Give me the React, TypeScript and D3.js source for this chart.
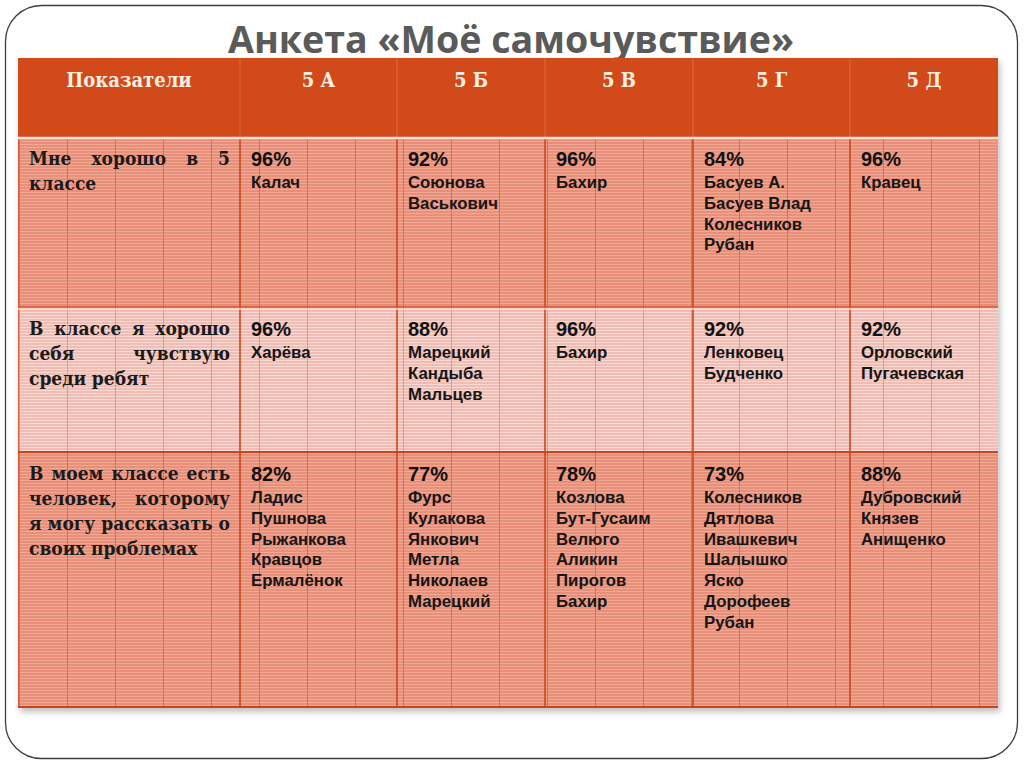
import React, { useEffect, useRef } from 'react';
import * as d3 from 'd3';

// --- data ---
const title = 'Анкета «Моё самочувствие»';
const headerLabel = 'Показатели';
const classes = ['5 А', '5 Б', '5 В', '5 Г', '5 Д'];

const indicatorLines = [
  ['Мне хорошо в 5', 'классе'],
  ['В классе я хорошо', 'себя чувствую', 'среди ребят'],
  ['В моем классе есть', 'человек, которому', 'я могу рассказать о', 'своих проблемах'],
];

const goodInClass = [96, 92, 96, 84, 96];
const goodAmongPeers = [96, 88, 96, 92, 92];
const canConfide = [82, 77, 78, 73, 88];

const namesGoodInClass = [
  ['Калач'],
  ['Союнова', 'Васькович'],
  ['Бахир'],
  ['Басуев А.', 'Басуев Влад', 'Колесников', 'Рубан'],
  ['Кравец'],
];
const namesGoodAmongPeers = [
  ['Харёва'],
  ['Марецкий', 'Кандыба', 'Мальцев'],
  ['Бахир'],
  ['Ленковец', 'Будченко'],
  ['Орловский', 'Пугачевская'],
];
const namesCanConfide = [
  ['Ладис', 'Пушнова', 'Рыжанкова', 'Кравцов', 'Ермалёнок'],
  ['Фурс', 'Кулакова', 'Янкович', 'Метла', 'Николаев', 'Марецкий'],
  ['Козлова', 'Бут-Гусаим', 'Велюго', 'Аликин', 'Пирогов', 'Бахир'],
  ['Колесников', 'Дятлова', 'Ивашкевич', 'Шалышко', 'Яско', 'Дорофеев', 'Рубан'],
  ['Дубровский', 'Князев', 'Анищенко'],
];

const percents = [goodInClass, goodAmongPeers, canConfide];
const names = [namesGoodInClass, namesGoodAmongPeers, namesCanConfide];

// --- layout ---
const W = 1024;
const H = 767;
const tableLeft = 18;
const colWidths = [222, 157, 148, 148, 157, 148];
const headerTop = 58;
const rowHeights = [79, 170, 145, 256];

const serif = '"DejaVu Serif Condensed", "DejaVu Serif", serif';
const sans = '"Liberation Sans", Arial, sans-serif';

export default function App() {
  const ref = useRef<SVGSVGElement>(null);

  useEffect(() => {
    document.body.style.margin = '0';
    const svg = d3.select(ref.current);
    svg.selectAll('*').remove();

    const colEdges = [tableLeft];
    colWidths.forEach((w) => colEdges.push(colEdges[colEdges.length - 1] + w));
    const rowEdges = [headerTop];
    rowHeights.forEach((h) => rowEdges.push(rowEdges[rowEdges.length - 1] + h));
    const tableRight = colEdges[colEdges.length - 1];
    const tableBottom = rowEdges[rowEdges.length - 1];

    const defs = svg.append('defs');
    const mkPattern = (id: string, base: string, stripe: string, vline: string) => {
      const p = defs
        .append('pattern')
        .attr('id', id)
        .attr('patternUnits', 'userSpaceOnUse')
        .attr('x', 19)
        .attr('y', 0)
        .attr('width', 48)
        .attr('height', 3);
      p.append('rect').attr('width', 48).attr('height', 3).attr('fill', base);
      p.append('rect').attr('width', 48).attr('height', 1).attr('fill', stripe);
      p.append('rect').attr('width', 1).attr('height', 3).attr('fill', vline);
    };
    mkPattern('salmon', '#e78f79', '#f1a995', '#cf735d');
    mkPattern('pink', '#efbdb4', '#f8d9d3', '#d99a8f');

    const shadow = defs.append('filter').attr('id', 'shadow').attr('x', '-5%').attr('y', '-5%').attr('width', '110%').attr('height', '115%');
    shadow.append('feDropShadow').attr('dx', 2).attr('dy', 4).attr('stdDeviation', 3).attr('flood-color', '#000').attr('flood-opacity', 0.25);

    // slide frame
    svg
      .append('rect')
      .attr('x', 5.5)
      .attr('y', 5.5)
      .attr('width', 1012)
      .attr('height', 753)
      .attr('rx', 36)
      .attr('fill', '#fff')
      .attr('stroke', '#3d3d3d')
      .attr('stroke-width', 1.3);

    // title
    svg
      .append('text')
      .attr('x', 511)
      .attr('y', 53)
      .attr('text-anchor', 'middle')
      .attr('font-family', '"Open Sans", sans-serif')
      .attr('font-weight', 700)
      .attr('font-size', 37)
      .attr('fill', '#5a5a5a')
      .attr('textLength', 566)
      .attr('lengthAdjust', 'spacingAndGlyphs')
      .text(title);

    const g = svg.append('g');

    // table background + shadow
    g.append('rect')
      .attr('x', tableLeft)
      .attr('y', headerTop)
      .attr('width', tableRight - tableLeft)
      .attr('height', tableBottom - headerTop)
      .attr('fill', '#e78f79')
      .attr('filter', 'url(#shadow)');

    // header
    g.append('rect')
      .attr('x', tableLeft)
      .attr('y', rowEdges[0])
      .attr('width', tableRight - tableLeft)
      .attr('height', rowHeights[0])
      .attr('fill', '#d2491a');

    // body rows
    indicatorLines.forEach((_, i) => {
      g.append('rect')
        .attr('x', tableLeft)
        .attr('y', rowEdges[i + 1])
        .attr('width', tableRight - tableLeft)
        .attr('height', rowHeights[i + 1])
        .attr('fill', i === 1 ? 'url(#pink)' : 'url(#salmon)');
    });

    // column separators
    colEdges.slice(1, -1).forEach((x) => {
      g.append('line')
        .attr('x1', x).attr('x2', x)
        .attr('y1', rowEdges[0]).attr('y2', rowEdges[1])
        .attr('stroke', '#de6a43').attr('stroke-width', 1);
      g.append('line')
        .attr('x1', x).attr('x2', x)
        .attr('y1', rowEdges[1]).attr('y2', tableBottom)
        .attr('stroke', '#c9461c').attr('stroke-width', 1.6);
    });
    g.append('line')
      .attr('x1', tableLeft + 0.5).attr('x2', tableLeft + 0.5)
      .attr('y1', rowEdges[1]).attr('y2', tableBottom)
      .attr('stroke', '#d0603f').attr('stroke-width', 1);

    // row borders
    g.append('line')
      .attr('x1', tableLeft).attr('x2', tableRight)
      .attr('y1', rowEdges[1] + 1).attr('y2', rowEdges[1] + 1)
      .attr('stroke', '#fbe3d8').attr('stroke-width', 2.5);
    g.append('line')
      .attr('x1', tableLeft).attr('x2', tableRight)
      .attr('y1', rowEdges[2]).attr('y2', rowEdges[2])
      .attr('stroke', '#d4532c').attr('stroke-width', 1.5);
    g.append('line')
      .attr('x1', tableLeft).attr('x2', tableRight)
      .attr('y1', rowEdges[2] + 2).attr('y2', rowEdges[2] + 2)
      .attr('stroke', '#f8d6cd').attr('stroke-width', 1.5);
    g.append('line')
      .attr('x1', tableLeft).attr('x2', tableRight)
      .attr('y1', rowEdges[3]).attr('y2', rowEdges[3])
      .attr('stroke', '#c8461d').attr('stroke-width', 2);
    g.append('line')
      .attr('x1', tableLeft).attr('x2', tableRight)
      .attr('y1', tableBottom - 1).attr('y2', tableBottom - 1)
      .attr('stroke', '#c8461d').attr('stroke-width', 2);

    // header texts
    const headerTexts = [headerLabel, ...classes];
    headerTexts.forEach((t, i) => {
      g.append('text')
        .attr('x', (colEdges[i] + colEdges[i + 1]) / 2)
        .attr('y', rowEdges[0] + 29)
        .attr('text-anchor', 'middle')
        .attr('font-family', serif)
        .attr('font-weight', 700)
        .attr('font-size', 20)
        .attr('fill', '#fdf1e4')
        .text(t);
    });

    // indicator labels, justified
    const labelX0 = colEdges[0] + 11;
    const labelX1 = colEdges[1] - 10;
    indicatorLines.forEach((lines, r) => {
      lines.forEach((line, li) => {
        const y = rowEdges[r + 1] + 28 + li * 25;
        const words = line.split(' ');
        const last = li === lines.length - 1;
        const tg = g.append('g');
        const nodes = words.map((w) =>
          tg
            .append('text')
            .attr('y', y)
            .attr('font-family', serif)
            .attr('font-weight', 700)
            .attr('font-size', 19)
            .attr('fill', '#1a1a1a')
            .text(w)
        );
        const widths = nodes.map((n) => (n.node() as SVGTextElement).getComputedTextLength());
        const total = d3.sum(widths);
        const gap = last || words.length === 1 ? 5.5 : (labelX1 - labelX0 - total) / (words.length - 1);
        let x = labelX0;
        nodes.forEach((n, k) => {
          n.attr('x', x);
          x += widths[k] + gap;
        });
      });
    });

    // cells
    percents.forEach((row, r) => {
      row.forEach((v, c) => {
        const x = colEdges[c + 1] + 11;
        const top = rowEdges[r + 1];
        g.append('text')
          .attr('x', x)
          .attr('y', top + 29)
          .attr('font-family', sans)
          .attr('font-weight', 700)
          .attr('font-size', 20)
          .attr('fill', '#111')
          .text(`${v}%`);
        names[r][c].forEach((n, k) => {
          g.append('text')
            .attr('x', x)
            .attr('y', top + 51 + k * 20.8)
            .attr('font-family', sans)
            .attr('font-weight', 700)
            .attr('font-size', 16.8)
            .attr('fill', '#151515')
            .text(n);
        });
      });
    });
  }, []);

  return <svg ref={ref} width={W} height={H} style={{ display: 'block' }} />;
}
